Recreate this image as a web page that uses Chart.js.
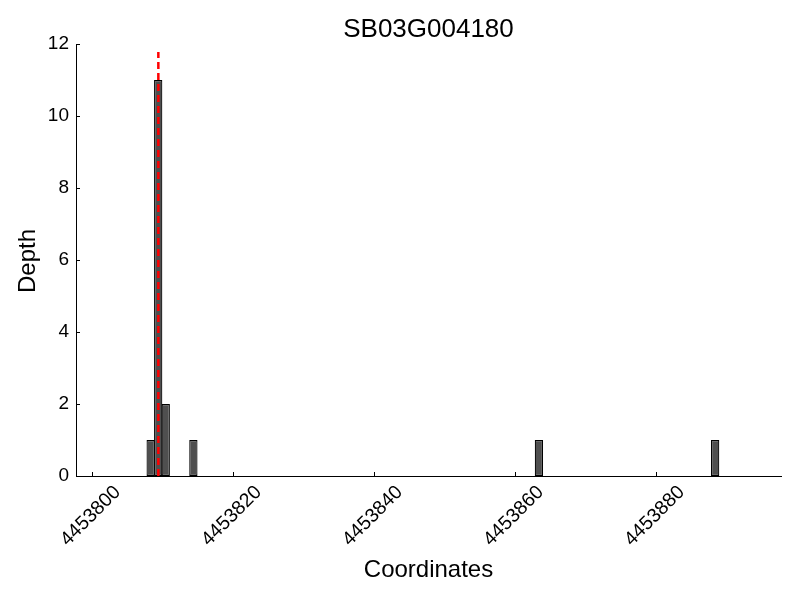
<!DOCTYPE html>
<html>
<head>
<meta charset="utf-8">
<script src="https://cdn.jsdelivr.net/npm/chart.js@4.4.1/dist/chart.umd.min.js"></script>
<style>
  body { margin: 0; background: #fff; }
  canvas { display: block; }
</style>
</head>
<body>
<canvas id="chart" width="800" height="600"></canvas>
<script>
// data
const coords = [4453808.36, 4453809.43, 4453810.50, 4453814.42, 4453863.43, 4453888.43];
const depth = [1, 11, 2, 1, 1, 1];
const peakX = 4453809.45;
const peakTop = 11.78;
const xTicks = [4453800, 4453820, 4453840, 4453860, 4453880];
const yTicks = [0, 2, 4, 6, 8, 10, 12];
const xMin = 4453797.77, xMax = 4453897.77;

const FONT = '"Liberation Sans", Arial, sans-serif';

// inward ticks, rotated x labels and titles
const decor = {
  id: 'decor',
  afterDraw(chart) {
    const ctx = chart.ctx;
    const { left, right, top, bottom } = chart.chartArea;
    const x = chart.scales.x, y = chart.scales.y;
    ctx.save();
    ctx.strokeStyle = '#000';
    ctx.lineWidth = 1;
    ctx.beginPath();
    xTicks.forEach(v => {
      const px = Math.round(x.getPixelForValue(v)) + 0.5;
      ctx.moveTo(px, bottom);
      ctx.lineTo(px, bottom - 4);
    });
    yTicks.forEach(v => {
      const py = Math.round(y.getPixelForValue(v)) + 0.5;
      ctx.moveTo(left, py);
      ctx.lineTo(left + 4, py);
    });
    ctx.stroke();

    ctx.fillStyle = '#000';
    ctx.font = `19.5px ${FONT}`;
    ctx.textAlign = 'center';
    ctx.textBaseline = 'middle';
    xTicks.forEach(v => {
      ctx.save();
      ctx.translate(x.getPixelForValue(v) - 1, bottom + 40);
      ctx.rotate(-Math.PI / 4);
      ctx.fillText(String(v), 0, 0);
      ctx.restore();
    });

    const cx = (left + right) / 2;
    ctx.textBaseline = 'alphabetic';
    ctx.font = `26px ${FONT}`;
    ctx.fillText('SB03G004180', cx, 37);
    ctx.font = `24px ${FONT}`;
    ctx.fillText('Coordinates', cx, 577);
    ctx.save();
    ctx.translate(35, (top + bottom) / 2 + 1);
    ctx.rotate(-Math.PI / 2);
    ctx.fillText('Depth', 0, 0);
    ctx.restore();
    ctx.restore();
  }
};

new Chart(document.getElementById('chart'), {
  type: 'bar',
  data: {
    datasets: [
      {
        type: 'line',
        data: [{ x: peakX, y: 0 }, { x: peakX, y: peakTop }],
        borderColor: '#ff0000',
        borderWidth: 2.5,
        borderDash: [7, 4],
        pointRadius: 0,
        order: 0
      },
      {
        data: coords.map((c, i) => ({ x: c, y: depth[i] })),
        backgroundColor: '#4f4f4f',
        borderColor: '#000',
        borderWidth: 1.2,
        borderSkipped: false,
        barPercentage: 1.1,
        categoryPercentage: 1,
        order: 1
      }
    ]
  },
  options: {
    responsive: false,
    animation: false,
    layout: { padding: { top: 44, right: 19, left: 0, bottom: 0 } },
    plugins: { legend: { display: false }, tooltip: { enabled: false }, title: { display: false } },
    scales: {
      x: {
        type: 'linear',
        min: xMin,
        max: xMax,
        offset: false,
        ticks: { display: false, stepSize: 20, includeBounds: false },
        grid: { display: false, drawTicks: false },
        border: { display: true, color: '#000', width: 1 },
        afterFit: s => { s.height = 124; }
      },
      y: {
        min: 0,
        max: 12,
        ticks: { stepSize: 2, color: '#000', padding: 7, font: { family: FONT, size: 19 } },
        grid: { display: false, drawTicks: false },
        border: { display: true, color: '#000', width: 1 },
        afterFit: s => { s.width = 76; }
      }
    }
  },
  plugins: [decor]
});
</script>
</body>
</html>
